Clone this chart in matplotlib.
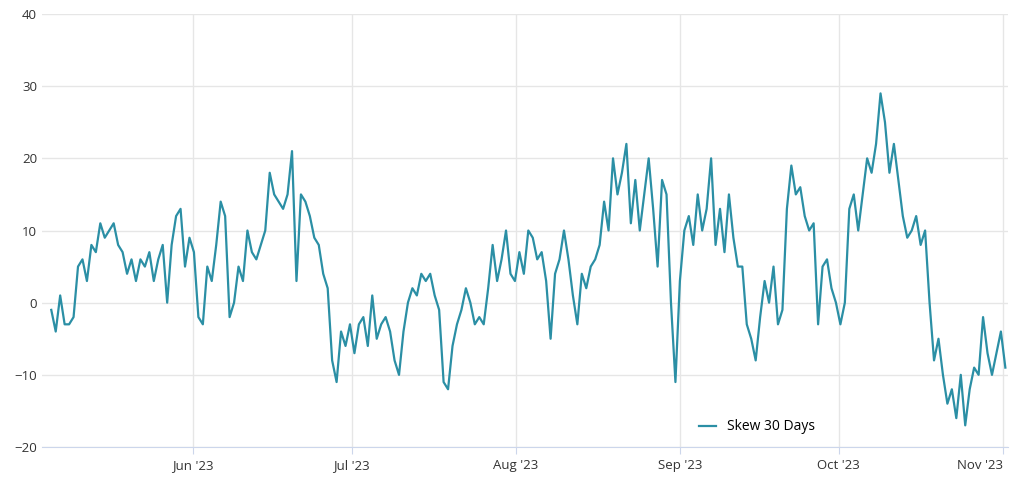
import matplotlib
matplotlib.use("Agg")
import matplotlib.pyplot as plt
import matplotlib.dates as mdates
import pandas as pd

plt.rcParams['font.family'] = ['Open Sans', 'DejaVu Sans']

start = "2023-05-05 06:00"
end = "2023-11-01 12:00"
skew = [-1,-4,1,-3,-3,-2,5,6,3,8,7,11,9,10,11,8,7,4,6,3,6,5,7,3,6,8,0,8,12,13,5,9,7,-2,-3,5,3,8,
        14,12,-2,0,5,3,10,7,6,8,10,18,15,14,13,15,21,3,15,14,12,9,8,4,2,-8,-11,-4,-6,-3,-7,-3,-2,-6,
        1,-5,-3,-2,-4,-8,-10,-4,0,2,1,4,3,4,1,-1,-11,-12,-6,-3,-1,2,0,-3,-2,-3,2,8,3,6,10,4,3,7,4,10,
        9,6,7,3,-5,4,6,10,6,1,-3,4,2,5,6,8,14,10,20,15,18,22,11,17,10,15,20,13,5,17,15,0,-11,3,10,12,
        8,15,10,13,20,8,13,7,15,9,5,5,-3,-5,-8,-2,3,0,5,-3,-1,13,19,15,16,12,10,11,-3,5,6,2,0,-3,0,13,
        15,10,15,20,18,22,29,25,18,22,17,12,9,10,12,8,10,0,-8,-5,-10,-14,-12,-16,-10,-17,-12,-9,-10,
        -2,-7,-10,-7,-4,-9]
times = pd.date_range(start, end, periods=len(skew))

fig = plt.figure(figsize=(10.24, 4.84), dpi=100)
ax = fig.add_axes([42/1024, 1-447/484, 966/1024, 433/484])
ax.plot(times, skew, color="#2b8fa5", lw=1.6, label="Skew 30 Days")
ax.set_ylim(-20, 40)
ax.set_yticks(range(-20, 41, 10))
ax.set_xlim(pd.Timestamp("2023-05-03 12:00"), pd.Timestamp("2023-11-02"))
ax.xaxis.set_major_locator(mdates.MonthLocator(bymonth=[6,7,8,9,10,11]))
ax.xaxis.set_major_formatter(mdates.DateFormatter("%b '%y"))
ax.grid(True, color="#e6e6e6", lw=1)
for s in ax.spines.values():
    s.set_visible(False)
ax.spines["bottom"].set_visible(True)
ax.spines["bottom"].set_color("#ccd6eb")
ax.tick_params(axis="y", length=0, labelcolor="#333333", labelsize=9.5)
ax.tick_params(axis="x", length=5, color="#ccd6eb", labelcolor="#333333", labelsize=9.5)
labels = ax.get_xticklabels()
fig.canvas.draw()
lbls = ax.get_xticklabels()
lbls[-1].set_horizontalalignment("right")
lbls[-1].set_x(lbls[-1].get_position()[0])
ax.legend(loc="lower center", bbox_to_anchor=(0.74, 0.0), frameon=False, fontsize=10,
          handlelength=1.2)
fig.savefig("out.png")
